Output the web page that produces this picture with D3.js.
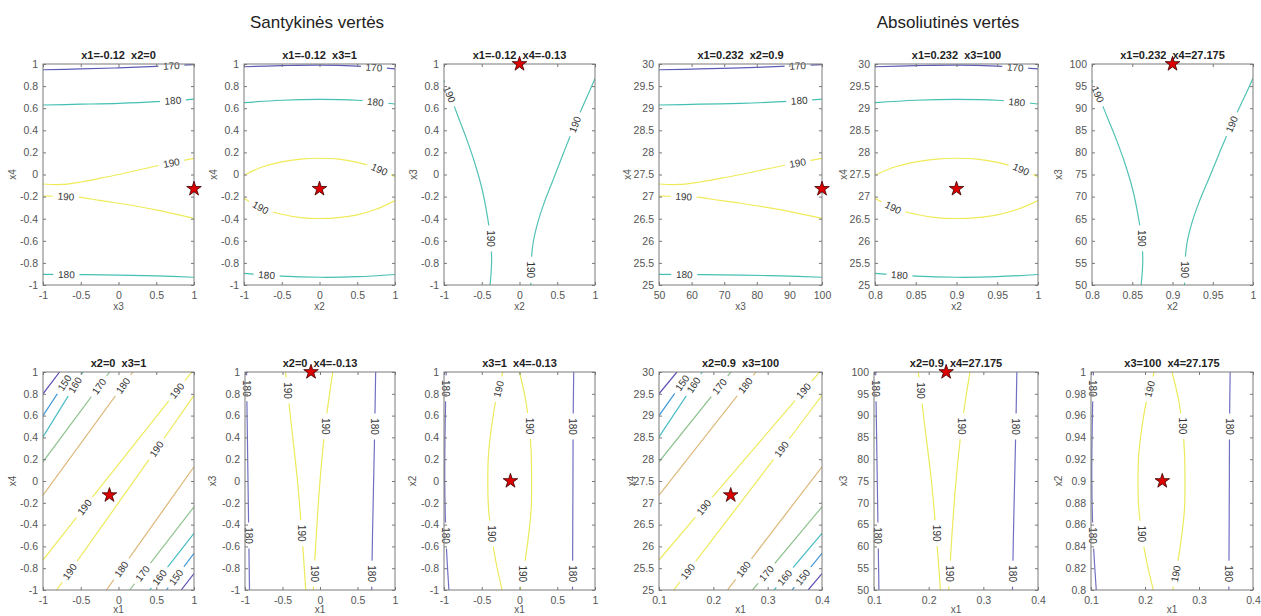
<!DOCTYPE html>
<html>
<head>
<meta charset="utf-8">
<script src="https://cdn.jsdelivr.net/npm/d3@7"></script>
<style>
  html, body { margin: 0; padding: 0; background: #fff; }
  svg { display: block; font-family: "Liberation Sans", Arial, sans-serif; }
</style>
</head>
<body>
<svg id="chart" width="1261" height="616"></svg>
<script>
// ---------- data ----------
// Coded factors run from -1 to 1; physical value = center + coded * half-range
const codeCenter = { x1: 0.25, x2: 0.9, x3: 75, x4: 27.5 };
const codeHalf   = { x1: 0.15, x2: 0.1, x3: 25, x4: 2.5 };

// Optimum point (coded units)
const optimumCoded = { x1: -0.12, x2: 0, x3: 1, x4: -0.13 };

// Tick labels
const relXTicks = [-1, -0.5, 0, 0.5, 1];
const relYTicks = [-1, -0.8, -0.6, -0.4, -0.2, 0, 0.2, 0.4, 0.6, 0.8, 1];
const absXTicks = {
  x1: [0.1, 0.2, 0.3, 0.4],
  x2: [0.8, 0.85, 0.9, 0.95, 1],
  x3: [50, 60, 70, 80, 90, 100]
};
const absYTicks = {
  x2: [0.8, 0.82, 0.84, 0.86, 0.88, 0.9, 0.92, 0.94, 0.96, 0.98, 1],
  x3: [50, 55, 60, 65, 70, 75, 80, 85, 90, 95, 100],
  x4: [25, 25.5, 26, 26.5, 27, 27.5, 28, 28.5, 29, 29.5, 30]
};

// Contour lines in coded units: level, vertices [x, y], label spots (fraction of arc length)
const linesX3X4 = [
  { level: 170, pts: [[-1, 0.948], [-0.5, 0.955], [0, 0.965], [0.5, 0.978], [1, 0.995]], labels: [0.85] },
  { level: 180, pts: [[-1, 0.629], [-0.5, 0.636], [0, 0.644], [0.5, 0.659], [1, 0.683]], labels: [0.86] },
  { level: 190, pts: [[-1, -0.086], [-0.75, -0.09], [-0.5, -0.068], [-0.25, -0.035], [0, 0.0], [0.5, 0.077], [1, 0.146]], labels: [0.85] },
  { level: 190, pts: [[-1, -0.195], [-0.75, -0.197], [-0.5, -0.207], [-0.25, -0.235], [0, -0.26], [0.5, -0.32], [1, -0.397]], labels: [0.15] },
  { level: 180, pts: [[-1, -0.903], [0, -0.91], [0.5, -0.918], [1, -0.93]], labels: [0.155] }
];
const linesX2X4 = [
  { level: 170, pts: [[-1, 0.975], [-0.5, 0.985], [0, 0.99], [0.5, 0.98], [1, 0.955]], labels: [0.86] },
  { level: 180, pts: [[-1, 0.65], [-0.5, 0.672], [0, 0.68], [0.5, 0.672], [1, 0.638]], labels: [0.87] },
  { level: 190, pts: [[-1, -0.005], [-0.75, 0.07], [-0.5, 0.115], [-0.25, 0.14], [0, 0.147], [0.25, 0.14], [0.5, 0.11], [0.75, 0.06], [1, -0.02]], labels: [0.89] },
  { level: 190, pts: [[-1, -0.215], [-0.75, -0.31], [-0.5, -0.36], [-0.25, -0.39], [0, -0.398], [0.25, -0.39], [0.5, -0.365], [0.75, -0.315], [1, -0.235]], labels: [0.12] },
  { level: 180, pts: [[-1, -0.895], [-0.5, -0.92], [0, -0.93], [0.5, -0.925], [1, -0.905]], labels: [0.15] }
];
const linesX2X3 = [
  { level: 190, pts: [[-1, 0.85], [-0.9, 0.68], [-0.8, 0.5], [-0.7, 0.32], [-0.6, 0.12], [-0.5, -0.12], [-0.43, -0.36], [-0.38, -0.6], [-0.37, -0.8], [-0.39, -1]], labels: [0.07, 0.78] },
  { level: 190, pts: [[0.15, -1], [0.155, -0.8], [0.18, -0.62], [0.24, -0.44], [0.33, -0.25], [0.45, -0.04], [0.58, 0.19], [0.75, 0.48], [0.88, 0.68], [1, 0.87]], labels: [0.07, 0.77] }
];
const linesX1X4 = [
  { level: 140, pts: [[-1, 0.80], [-0.78, 1]], labels: [] },
  { level: 150, pts: [[-1, 0.60], [-0.62, 1]], labels: [0.75] },
  { level: 160, pts: [[-1, 0.405], [-0.47, 1]], labels: [0.8] },
  { level: 170, pts: [[-1, 0.176], [-0.117, 1]], labels: [0.84] },
  { level: 180, pts: [[-1, -0.13], [0.19, 1]], labels: [0.89] },
  { level: 190, pts: [[-1, -0.725], [-0.45, -0.24], [0.97, 1]], labels: [0.28, 0.9] },
  { level: 190, pts: [[-0.82, -1], [0.5, 0.29], [1, 0.786]], labels: [0.095, 0.725] },
  { level: 180, pts: [[-0.16, -1], [1, 0.13]], labels: [0.17] },
  { level: 170, pts: [[0.148, -1], [1, -0.237]], labels: [0.2] },
  { level: 160, pts: [[0.413, -1], [1, -0.48]], labels: [0.22] },
  { level: 150, pts: [[0.634, -1], [1, -0.664]], labels: [0.35] },
  { level: 140, pts: [[0.83, -1], [1, -0.85]], labels: [] }
];
const linesX1X3 = [
  { level: 180, pts: [[-0.98, 1], [-0.97, 0.5], [-0.96, 0], [-0.95, -0.5], [-0.94, -1]], labels: [0.075, 0.75] },
  { level: 190, pts: [[-0.46, 1], [-0.38, 0.5], [-0.3, 0], [-0.24, -0.5], [-0.19, -1]], labels: [0.085, 0.74] },
  { level: 190, pts: [[0.17, 1], [0.07, 0.5], [0.0, 0], [-0.05, -0.5], [-0.09, -1]], labels: [0.25, 0.925] },
  { level: 180, pts: [[0.742, 1], [0.73, 0.5], [0.715, 0], [0.70, -0.5], [0.689, -1]], labels: [0.25, 0.925] }
];
const linesX1X2 = [
  { level: 180, pts: [[-0.97, 1], [-0.985, 0.5], [-0.99, 0], [-0.975, -0.5], [-0.935, -1]], labels: [0.075, 0.75] },
  { level: 190, pts: [[-0.22, 1], [-0.31, 0.75], [-0.37, 0.5], [-0.41, 0.25], [-0.42, 0], [-0.41, -0.25], [-0.37, -0.5], [-0.31, -0.75], [-0.23, -1]], labels: [0.08, 0.74] },
  { level: 190, pts: [[0.0, 1], [0.08, 0.75], [0.13, 0.5], [0.155, 0.25], [0.16, 0], [0.155, -0.25], [0.12, -0.5], [0.07, -0.75], [0.01, -1]], labels: [0.25, 0.925] },
  { level: 180, pts: [[0.718, 1], [0.71, 0.5], [0.708, 0], [0.705, -0.5], [0.702, -1]], labels: [0.25, 0.925] }
];

// Panel definitions (same six slices, in coded and physical units)
const sliceAxes = [["x3", "x4"], ["x2", "x4"], ["x2", "x3"], ["x1", "x4"], ["x1", "x3"], ["x1", "x2"]];
const sliceLines = [linesX3X4, linesX2X4, linesX2X3, linesX1X4, linesX1X3, linesX1X2];
const relTitles = ["x1=-0.12  x2=0", "x1=-0.12  x3=1", "x1=-0.12  x4=-0.13",
                   "x2=0  x3=1", "x2=0  x4=-0.13", "x3=1  x4=-0.13"];
const absTitles = ["x1=0.232  x2=0.9", "x1=0.232  x3=100", "x1=0.232  x4=27.175",
                   "x2=0.9  x3=100", "x2=0.9  x4=27.175", "x3=100  x4=27.175"];
const groupTitles = ["Santykinės vertės", "Absoliutinės vertės"];

// ---------- styling / layout ----------
const palettes = [
  { 170: "#5c5cb8", 180: "#44c0b2", 190: "#efeb58" },
  { 170: "#5c5cb8", 180: "#44c0b2", 190: "#efeb58" },
  { 190: "#52c2b4" },
  { 140: "#5b50b6", 150: "#3f96d6", 160: "#45bcc2", 170: "#8fc28f", 180: "#dcb676", 190: "#edea5c" },
  { 180: "#7070c2", 190: "#ecea5a" },
  { 180: "#7070c2", 190: "#ecea5a" }
];
// [left, top, width, height, ylabel offset] per slot, top row then bottom row
const frames = [
  [[43, 64, 151, 221, 31], [244, 64, 151, 221, 31], [444, 64, 151, 221, 31],
   [659, 64, 163, 221, 32], [875, 64, 163, 221, 32], [1092, 64, 161, 221, 34]],
  [[43, 372, 151, 218, 31], [245, 372, 150, 218, 33], [444, 372, 151, 218, 32],
   [659, 372, 163, 218, 28], [874, 372, 164, 218, 31], [1091, 372, 162, 218, 33]]
];

const svg = d3.select("#chart");
const defs = svg.append("defs");
const fmt = d => String(+(+d).toFixed(4));
const smooth = d3.line().curve(d3.curveCatmullRom.alpha(0.5));

svg.append("g").selectAll("text").data(groupTitles).join("text")
  .attr("x", (d, i) => i === 0 ? 317 : 948)
  .attr("y", 28)
  .attr("text-anchor", "middle")
  .attr("font-size", 17)
  .attr("fill", "#222")
  .text(d => d);

function pointAlong(pts, t) {
  const segs = [];
  let total = 0;
  for (let i = 1; i < pts.length; i++) {
    const l = Math.hypot(pts[i][0] - pts[i - 1][0], pts[i][1] - pts[i - 1][1]);
    segs.push(l); total += l;
  }
  let target = t * total, i = 0;
  while (i < segs.length - 1 && target > segs[i]) { target -= segs[i]; i++; }
  const f = segs[i] ? target / segs[i] : 0;
  const a = pts[i], b = pts[i + 1];
  let ang = Math.atan2(b[1] - a[1], b[0] - a[0]) * 180 / Math.PI;
  if (ang > 90) ang -= 180;
  if (ang <= -90) ang += 180;
  if (Math.abs(ang) > 80) ang = 90;
  return { x: a[0] + (b[0] - a[0]) * f, y: a[1] + (b[1] - a[1]) * f, angle: ang };
}

let uid = 0;
function drawPanel(slot, absolute) {
  const row = slot < 3 ? 0 : 1;
  const col = (slot % 3) + (absolute ? 3 : 0);
  const [left, top, w, h, ylOff] = frames[row][col];
  const [xv, yv] = sliceAxes[slot];
  const conv = (v, d) => absolute ? codeCenter[v] + d * codeHalf[v] : d;
  const x = d3.scaleLinear().domain([conv(xv, -1), conv(xv, 1)]).range([left, left + w]);
  const y = d3.scaleLinear().domain([conv(yv, -1), conv(yv, 1)]).range([top + h, top]);
  const xt = absolute ? absXTicks[xv] : relXTicks;
  const yt = absolute ? absYTicks[yv] : relYTicks;
  const pal = palettes[slot];
  const id = uid++;

  const g = svg.append("g");

  // screen-space polylines
  const lines = sliceLines[slot].map(L => ({
    level: L.level,
    screen: L.pts.map(p => [x(conv(xv, p[0])), y(conv(yv, p[1]))]),
    labels: L.labels
  }));
  const labelSpots = [];
  lines.forEach(L => L.labels.forEach(t => labelSpots.push({ level: L.level, ...pointAlong(L.screen, t) })));

  defs.append("clipPath").attr("id", "clip" + id)
    .append("rect").attr("x", left).attr("y", top).attr("width", w).attr("height", h);
  const mask = defs.append("mask").attr("id", "mask" + id).attr("maskUnits", "userSpaceOnUse")
    .attr("x", left - 20).attr("y", top - 20).attr("width", w + 40).attr("height", h + 40);
  mask.append("rect").attr("x", left - 20).attr("y", top - 20).attr("width", w + 40).attr("height", h + 40).attr("fill", "#fff");
  mask.selectAll("rect.gap").data(labelSpots).join("rect").attr("class", "gap")
    .attr("x", -13).attr("y", -5).attr("width", 26).attr("height", 10).attr("fill", "#000")
    .attr("transform", d => `translate(${d.x},${d.y}) rotate(${d.angle})`);

  g.append("g").attr("clip-path", `url(#clip${id})`)
    .append("g").attr("mask", `url(#mask${id})`)
    .selectAll("path").data(lines).join("path")
    .attr("d", d => smooth(d.screen))
    .attr("fill", "none")
    .attr("stroke", d => pal[d.level])
    .attr("stroke-width", 1.2);

  g.append("g").selectAll("text").data(labelSpots).join("text")
    .attr("transform", d => `translate(${d.x},${d.y}) rotate(${d.angle})`)
    .attr("text-anchor", "middle")
    .attr("dy", "0.36em")
    .attr("font-size", 10)
    .attr("fill", "#333")
    .text(d => d.level);

  // axes: labelled bottom/left, bare ticks on top/right, all pointing inward
  const styleAxis = sel => {
    sel.select(".domain").remove();
    sel.selectAll("line").attr("stroke", "#777");
    sel.selectAll("text").attr("fill", "#555").attr("font-size", 10.5)
      .attr("font-family", '"Liberation Sans", Arial, sans-serif');
  };
  g.append("g").attr("transform", `translate(0,${top + h})`)
    .call(d3.axisBottom(x).tickValues(xt).tickFormat(fmt).tickSizeInner(-3).tickSizeOuter(0).tickPadding(7)).call(styleAxis);
  g.append("g").attr("transform", `translate(0,${top})`)
    .call(d3.axisTop(x).tickValues(xt).tickFormat("").tickSizeInner(-3).tickSizeOuter(0)).call(styleAxis);
  g.append("g").attr("transform", `translate(${left},0)`)
    .call(d3.axisLeft(y).tickValues(yt).tickFormat(fmt).tickSizeInner(-3).tickSizeOuter(0).tickPadding(5)).call(styleAxis);
  g.append("g").attr("transform", `translate(${left + w},0)`)
    .call(d3.axisRight(y).tickValues(yt).tickFormat("").tickSizeInner(-3).tickSizeOuter(0)).call(styleAxis);

  g.append("rect").attr("x", left).attr("y", top).attr("width", w).attr("height", h)
    .attr("fill", "none").attr("stroke", "#7a7a7a").attr("stroke-width", 1);

  g.append("text")
    .attr("x", left + w / 2).attr("y", top - 5)
    .attr("text-anchor", "middle")
    .attr("font-size", 11).attr("font-weight", "bold").attr("fill", "#222")
    .style("white-space", "pre")
    .text(absolute ? absTitles[slot] : relTitles[slot]);

  g.append("text")
    .attr("x", left + w / 2).attr("y", top + h + (row === 0 ? 25 : 23))
    .attr("text-anchor", "middle")
    .attr("font-size", 10).attr("fill", "#555")
    .text(xv);
  g.append("text")
    .attr("transform", `translate(${left - ylOff + 3.5},${top + h / 2}) rotate(-90)`)
    .attr("text-anchor", "middle")
    .attr("font-size", 10).attr("fill", "#555")
    .text(yv);

  // optimum marker
  const sx = x(conv(xv, optimumCoded[xv]));
  const sy = y(conv(yv, optimumCoded[yv]));
  g.append("path")
    .attr("d", d3.symbol(d3.symbolStar).size(66)())
    .attr("transform", `translate(${sx},${sy})`)
    .attr("fill", "#dd0000")
    .attr("stroke", "#3a0000")
    .attr("stroke-width", 0.8);
}

for (let s = 0; s < 6; s++) {
  drawPanel(s, false);
  drawPanel(s, true);
}
</script>
</body>
</html>
